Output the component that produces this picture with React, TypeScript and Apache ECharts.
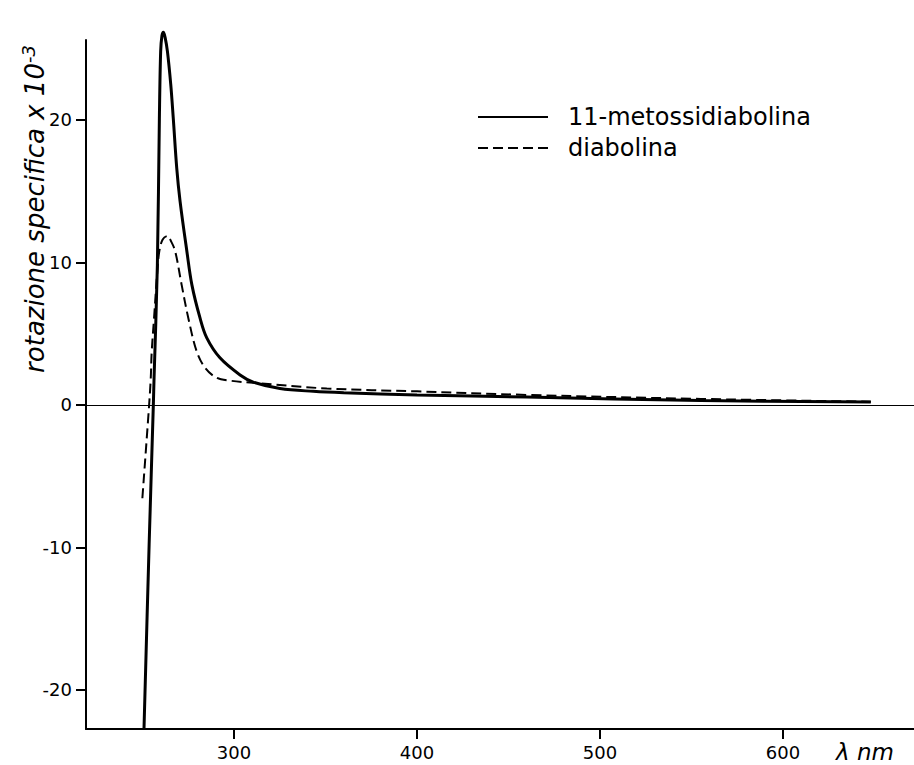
import React, { useEffect, useRef } from "react";
import * as echarts from "echarts";

// 11-metossidiabolina (solid)
const metossiWl = [250.8, 253.6, 255.9, 256.3, 258.1, 259.2, 259.9, 260.6, 261.4, 262.3, 263.6, 265.4, 266.8, 268.7, 270.5, 274.2, 277.0, 281.4, 285.1, 292.3, 303.3, 310.5, 325.1, 343.3, 360, 400, 460, 555, 648];
const metossiRot = [-22.7, -9.8, 0, 1.9, 9.8, 20.1, 24.8, 25.9, 26.15, 25.8, 24.8, 22.5, 20.1, 16.6, 14.3, 10.8, 8.4, 6.1, 4.7, 3.3, 2.1, 1.6, 1.15, 0.95, 0.85, 0.7, 0.55, 0.3, 0.2];

// diabolina (dashed)
const diabWl = [249.9, 253.6, 254.5, 255.0, 256.3, 258.1, 259.2, 261.0, 263.6, 265.5, 267.8, 271.4, 275.0, 279.6, 284.2, 290.5, 297.8, 310.5, 350.7, 400, 460, 555, 648];
const diabRot = [-6.55, 0, 1.9, 3.7, 6.1, 9.4, 10.8, 11.6, 11.85, 11.5, 10.8, 8.4, 6.1, 3.75, 2.6, 1.9, 1.7, 1.55, 1.15, 0.95, 0.7, 0.42, 0.22];

const seriesNames = ["11-metossidiabolina", "diabolina"];
const xTicks = [300, 400, 500, 600];
const yTicks = [-20, -10, 0, 10, 20];

const zip = (xs: number[], ys: number[]) => xs.map((x, i) => [x, ys[i]]);

export default function App() {
  const ref = useRef<HTMLDivElement>(null);
  useEffect(() => {
    if (!ref.current) return;
    const chart = echarts.init(ref.current, null, { renderer: "svg" });
    const axisLineStyle = { color: "#000", width: 2 };
    chart.setOption({
      animation: false,
      backgroundColor: "#fff",
      textStyle: { fontFamily: "DejaVu Sans", color: "#000" },
      grid: { left: 86, right: 0, top: 40, bottom: 36, containLabel: false },
      legend: {
        orient: "vertical",
        left: 477,
        top: 104,
        padding: 0,
        itemWidth: 70,
        itemHeight: 14,
        itemGap: 5,
        data: seriesNames,
        itemStyle: { opacity: 0 },
        textStyle: { fontSize: 24, lineHeight: 26, color: "#000", padding: [0, 0, 0, 15] },
      },
      xAxis: {
        type: "value",
        min: 219.1,
        max: 671.6,
        axisLine: { show: true, onZero: false, lineStyle: axisLineStyle },
        axisTick: { show: true, customValues: xTicks, length: 10, lineStyle: axisLineStyle },
        axisLabel: { customValues: xTicks, fontSize: 18, color: "#000", margin: 14 },
        splitLine: { show: false },
      },
      yAxis: {
        type: "value",
        min: -22.74,
        max: 25.6,
        axisLine: { show: true, onZero: false, lineStyle: axisLineStyle },
        axisTick: { show: true, customValues: yTicks, length: 10, lineStyle: axisLineStyle },
        axisLabel: { customValues: yTicks, fontSize: 18, color: "#000", margin: 14 },
        splitLine: { show: false },
      },
      graphic: [
        {
          type: "text",
          x: 35,
          y: 209,
          rotation: Math.PI / 2,
          style: {
            text: "{m|rotazione specifica x 10}{s|-3}",
            align: "center",
            verticalAlign: "middle",
            fill: "#000",
            rich: {
              m: { fontSize: 26, fontStyle: "italic", fontFamily: "DejaVu Sans", lineHeight: 32, fill: "#000" },
              s: { fontSize: 18, fontStyle: "italic", fontFamily: "DejaVu Sans", lineHeight: 18, verticalAlign: "top", fill: "#000" },
            },
          },
        },
        {
          type: "text",
          x: 836,
          y: 752,
          style: {
            text: "λ nm",
            font: "italic 23px DejaVu Sans",
            align: "left",
            verticalAlign: "middle",
            fill: "#000",
          },
        },
      ],
      series: [
        {
          name: seriesNames[0],
          type: "line",
          data: zip(metossiWl, metossiRot),
          symbol: "none",
          smooth: 0.35,
          clip: false,
          lineStyle: { color: "#000", width: 3 },
          itemStyle: { color: "#000" },
          markLine: {
            silent: true,
            symbol: "none",
            label: { show: false },
            lineStyle: { color: "#000", width: 1, type: "solid" },
            data: [{ yAxis: 0 }],
          },
        },
        {
          name: seriesNames[1],
          type: "line",
          data: zip(diabWl, diabRot),
          symbol: "none",
          smooth: 0.35,
          lineStyle: { color: "#000", width: 2, type: [10, 5] },
          itemStyle: { color: "#000" },
        },
      ],
    });
    return () => chart.dispose();
  }, []);
  return (
    <div
      ref={ref}
      style={{ position: "absolute", left: 0, top: 0, width: 914, height: 765, background: "#fff" }}
    />
  );
}
